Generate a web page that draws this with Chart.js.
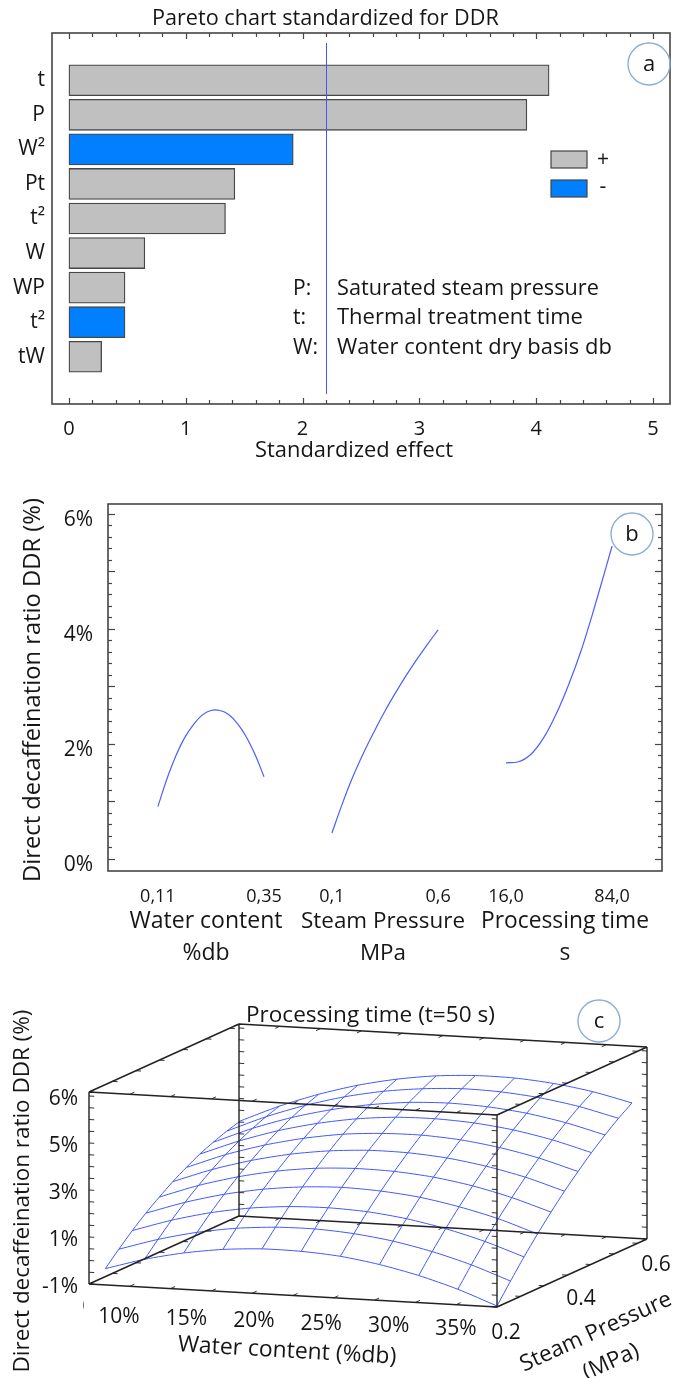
<!DOCTYPE html>
<html><head><meta charset="utf-8">
<script src="https://cdn.jsdelivr.net/npm/chart.js@4.4.1/dist/chart.umd.min.js"></script>
<style>
html,body{margin:0;padding:0;background:#fff;}
#wrap{position:relative;width:677px;height:1378px;overflow:hidden;background:#fff;}
canvas{position:absolute;left:0;}
</style></head><body>
<div id="wrap">
<canvas id="ca" width="677" height="470" style="top:0px"></canvas>
<canvas id="cb" width="677" height="520" style="top:470px"></canvas>
<canvas id="cc" width="677" height="393" style="top:985px"></canvas>
</div>
<script>
// ---------------- DATA ----------------
// (a) Pareto chart
const effectLabels = ['t','P','W²','Pt','t²','W','WP','t²','tW'];
const effectValues = [4.11, 3.92, 1.92, 1.42, 1.34, 0.65, 0.48, 0.48, 0.28];
const effectSigns  = ['+','+','-','+','+','+','+','-','+'];
const effectTicks  = [0, 1, 2, 3, 4, 5];
const criticalValue = 2.2;
const legendLabels = ['+','-'];
const factorNotes = [['P:','Saturated steam pressure'],['t:','Thermal treatment time'],['W:','Water content dry basis db']];

// (b) main effects
const waterX   = [0.11,0.13,0.15,0.17,0.19,0.21,0.23,0.25,0.27,0.29,0.31,0.33,0.35];
const waterDDR = [0.91,1.38,1.78,2.10,2.33,2.50,2.58,2.58,2.51,2.35,2.12,1.81,1.43];
const pressureX   = [0.10,0.15,0.20,0.25,0.30,0.35,0.40,0.45,0.50,0.55,0.60];
const pressureDDR = [0.45,0.97,1.44,1.85,2.22,2.57,2.89,3.19,3.47,3.73,3.98];
const timeX   = [16,24,32,40,48,56,64,72,80,84];
const timeDDR = [1.67,1.69,1.82,2.10,2.51,3.02,3.61,4.31,5.06,5.44];
const factorRanges = [[0.11,0.35],[0.10,0.60],[16,84]];
const factorTickLabels = [['0,11','0,35'],['0,1','0,6'],['16,0','84,0']];
const factorTitles = [['Water content','%db'],['Steam Pressure','MPa'],['Processing time','s']];
const ddrTicks = [0,2,4,6];
const ddrTickLabels = ['0%','2%','4%','6%'];

// (c) response surface at t = 50 s
const surfW = [0.11,0.134,0.158,0.182,0.206,0.23,0.254,0.278,0.302,0.326,0.35];
const surfP = [0.20,0.236,0.272,0.308,0.344,0.38,0.416,0.452,0.488,0.524,0.56];
const surfDDR = [
 [-0.35,0.11,0.45,0.68,0.79,0.78,0.67,0.43,0.08,-0.38,-0.96],
 [0.18,0.66,1.03,1.28,1.41,1.43,1.33,1.12,0.79,0.35,-0.21],
 [0.68,1.18,1.57,1.84,1.99,2.03,1.96,1.77,1.46,1.04,0.51],
 [1.13,1.65,2.06,2.35,2.53,2.60,2.54,2.38,2.09,1.70,1.18],
 [1.53,2.08,2.51,2.83,3.03,3.11,3.08,2.94,2.68,2.30,1.81],
 [1.90,2.47,2.92,3.26,3.48,3.59,3.58,3.46,3.22,2.87,2.40],
 [2.22,2.82,3.29,3.65,3.90,4.02,4.04,3.94,3.72,3.39,2.94],
 [2.51,3.12,3.62,4.00,4.27,4.42,4.45,4.37,4.18,3.87,3.45],
 [2.74,3.38,3.90,4.30,4.59,4.77,4.83,4.77,4.60,4.31,3.91],
 [2.94,3.60,4.14,4.57,4.88,5.07,5.16,5.12,4.97,4.71,4.33],
 [3.10,3.78,4.34,4.79,5.12,5.34,5.44,5.43,5.30,5.06,4.70]
];
const boxW = [0.10, 0.35];
const boxP = [0.20, 0.60];
const boxZ = [-1, 6.66];
const wTickVals = [0.10,0.15,0.20,0.25,0.30,0.35];
const wTickLabels = ['10%','15%','20%','25%','30%','35%'];
const pTickVals = [0.2,0.4,0.6];
const pTickLabels = ['0.2','0.4','0.6'];
const zTickVals = [-1,0.875,2.75,4.625,6.5];
const zTickLabels = ['-1%','1%','3%','5%','6%'];

// ---------------- STYLE ----------------
const FONT = "'Open Sans', Lato, sans-serif";
const INK = '#161616', FRAME = '#454545', GRAY = '#c0c0c0', BLUE = '#0080ff';
const CURVE = '#4d5eff', MESH = '#4257ff', RING = '#8caed6';
Chart.defaults.font.family = FONT;
Chart.defaults.color = INK;
Chart.defaults.animation = false;

function fitSize(ctx, s, w, base) {
  ctx.save(); ctx.font = `${base}px ${FONT}`;
  const m = ctx.measureText(s).width; ctx.restore();
  return base * w / m;
}
function txt(ctx, s, x, y, o = {}) {
  ctx.save();
  let size = o.size || 21;
  if (o.w) size = fitSize(ctx, s, o.w, size);
  ctx.font = `${size}px ${FONT}`;
  ctx.fillStyle = o.color || INK;
  ctx.textAlign = o.align || 'left';
  ctx.textBaseline = o.baseline || 'alphabetic';
  ctx.translate(x, y);
  if (o.rot) ctx.rotate(o.rot);
  ctx.fillText(s, 0, 0);
  ctx.restore();
}
function ring(ctx, x, y, r, letter) {
  ctx.save();
  ctx.strokeStyle = RING; ctx.lineWidth = 1.4;
  ctx.beginPath(); ctx.arc(x, y, r, 0, Math.PI * 2); ctx.stroke();
  ctx.restore();
  txt(ctx, letter, x, y + 1, {size: 22, align: 'center', baseline: 'middle'});
}
function seg(ctx, x1, y1, x2, y2) { ctx.beginPath(); ctx.moveTo(x1, y1); ctx.lineTo(x2, y2); ctx.stroke(); }

// ---------------- (a) PARETO ----------------
const paretoDecor = {
  id: 'paretoDecor',
  afterDatasetsDraw(chart) {
    const {ctx, chartArea: a, scales: {x}} = chart;
    const xr = Math.round(x.getPixelForValue(criticalValue)) + 0.5;
    ctx.save(); ctx.strokeStyle = '#4455ff'; ctx.lineWidth = 1;
    seg(ctx, xr, a.top + 10, xr, a.bottom - 10);
    ctx.restore();
  },
  afterDraw(chart) {
    const {ctx, chartArea: a, scales: {x}} = chart;
    ctx.save();
    ctx.strokeStyle = FRAME; ctx.lineWidth = 1.6;
    ctx.strokeRect(a.left, a.top, a.right - a.left, a.bottom - a.top);
    ctx.lineWidth = 1.2;
    for (let k = 0; k <= 25; k++) {
      const px = Math.round(x.getPixelForValue(k / 5)) + 0.5;
      const len = k % 5 === 0 ? 6 : 4;
      seg(ctx, px, a.top, px, a.top + len);
      seg(ctx, px, a.bottom, px, a.bottom - len);
    }
    ctx.lineWidth = 1.2; ctx.strokeStyle = '#444';
    ctx.fillStyle = GRAY; ctx.fillRect(551, 151, 36, 17); ctx.strokeRect(551, 151, 36, 17);
    ctx.fillStyle = BLUE; ctx.fillRect(551, 180, 36, 17); ctx.strokeRect(551, 180, 36, 17);
    ctx.restore();
    txt(ctx, legendLabels[0], 603, 160, {size: 21, align: 'center', baseline: 'middle'});
    txt(ctx, legendLabels[1], 603, 187, {size: 21, align: 'center', baseline: 'middle'});
    const base = [295, 324, 354];
    const noteW = [262, 246, 275];
    factorNotes.forEach((n, i) => {
      txt(ctx, n[0], 293, base[i], {size: 21});
      txt(ctx, n[1], 337, base[i], {size: 21, w: noteW[i]});
    });
    txt(ctx, 'Pareto chart standardized for DDR', 152, 25, {size: 21, w: 347});
    txt(ctx, 'Standardized effect', 354, 457, {size: 21, w: 198, align: 'center'});
    ring(ctx, 649, 64, 21, 'a');
  }
};

new Chart(document.getElementById('ca'), {
  type: 'bar',
  data: {
    datasets: [{
      data: effectValues.map((v, i) => ({x: v, y: i})),
      backgroundColor: effectSigns.map(s => s === '+' ? GRAY : BLUE),
      borderColor: '#474747', borderWidth: 1.3, borderSkipped: false,
      barThickness: 31
    }]
  },
  options: {
    indexAxis: 'y', responsive: false, events: [],
    layout: {padding: {left: 0, right: 7, top: 33, bottom: 0}},
    plugins: {legend: {display: false}, tooltip: {enabled: false}},
    scales: {
      x: {
        type: 'linear', min: -0.145, max: 5.145,
        afterBuildTicks: s => { s.ticks = effectTicks.map(v => ({value: v})); },
        afterFit: s => { s.height = 66; },
        grid: {display: false, drawTicks: false}, border: {display: false},
        ticks: {font: {size: 20}, color: INK, padding: 13, autoSkip: false, maxRotation: 0}
      },
      y: {
        type: 'linear', reverse: true, min: -0.77, max: 8.77,
        afterBuildTicks: s => { s.ticks = effectLabels.map((l, i) => ({value: i})); },
        afterFit: s => { s.width = 52; },
        grid: {display: false, drawTicks: false}, border: {display: false},
        ticks: {font: {size: 21}, color: INK, padding: 7, autoSkip: false,
                callback: v => effectLabels[v]}
      }
    }
  },
  plugins: [paretoDecor]
});

// ---------------- (b) MAIN EFFECTS ----------------
const GROUP_STEP = 1.64;
const groupSeries = [[waterX, waterDDR], [pressureX, pressureDDR], [timeX, timeDDR]];
const groupInterp = ['default', 'default', 'monotone'];
const bTickPos = [], bTickText = [];
factorRanges.forEach((r, g) => {
  bTickPos.push(g * GROUP_STEP, g * GROUP_STEP + 1);
  bTickText.push(factorTickLabels[g][0], factorTickLabels[g][1]);
});
const effectsDecor = {
  id: 'effectsDecor',
  afterDraw(chart) {
    const {ctx, chartArea: a, scales: {y}} = chart;
    ctx.save();
    ctx.strokeStyle = FRAME; ctx.lineWidth = 1.6;
    ctx.strokeRect(a.left, a.top, a.right - a.left, a.bottom - a.top);
    ctx.lineWidth = 1.2;
    for (let k = 0; k <= 30; k++) {
      const py = Math.round(y.getPixelForValue(k * 0.2)) + 0.5;
      const len = k % 5 === 0 ? 7 : 4;
      seg(ctx, a.left, py, a.left + len, py);
      seg(ctx, a.right, py, a.right - len, py);
    }
    ctx.restore();
    txt(ctx, 'Direct decaffeination ratio DDR (%)', 33, 220, {size: 21, w: 384, align: 'center', baseline: 'middle', rot: -Math.PI / 2});
    const cx = [206, 383, 565];
    const tw = [153, 164, 168];
    factorTitles.forEach((t, g) => {
      const size = fitSize(ctx, t[0], tw[g], 22);
      txt(ctx, t[0], cx[g], 458, {size, align: 'center'});
      txt(ctx, t[1], cx[g], 490, {size, align: 'center'});
    });
    ring(ctx, 632, 64, 21, 'b');
  }
};
new Chart(document.getElementById('cb'), {
  type: 'scatter',
  data: {
    datasets: groupSeries.map((s, g) => ({
      data: s[0].map((v, k) => ({x: g * GROUP_STEP + (v - factorRanges[g][0]) / (factorRanges[g][1] - factorRanges[g][0]), y: s[1][k]})),
      showLine: true, pointRadius: 0, borderColor: CURVE, borderWidth: 1.2,
      cubicInterpolationMode: groupInterp[g], tension: 0.4
    }))
  },
  options: {
    responsive: false, events: [],
    layout: {padding: {left: 0, right: 15, top: 34, bottom: 0}},
    plugins: {legend: {display: false}, tooltip: {enabled: false}},
    scales: {
      x: {
        type: 'linear', min: -0.47, max: 4.75,
        afterBuildTicks: s => { s.ticks = bTickPos.map(v => ({value: v})); },
        afterFit: s => { s.height = 119; },
        grid: {display: false, drawTicks: false}, border: {display: false},
        ticks: {font: {size: 18}, color: INK, padding: 15, autoSkip: false, maxRotation: 0,
                callback: (v, i) => bTickText[i]}
      },
      y: {
        type: 'linear', min: -0.21, max: 6.17,
        afterBuildTicks: s => { s.ticks = ddrTicks.map(v => ({value: v})); },
        afterFit: s => { s.width = 108; },
        grid: {display: false, drawTicks: false}, border: {display: false},
        ticks: {font: {size: 21}, color: INK, padding: 15, autoSkip: false, labelOffset: 6,
                callback: (v, i) => ddrTickLabels[i]}
      }
    }
  },
  plugins: [effectsDecor]
});

// ---------------- (c) RESPONSE SURFACE ----------------
// oblique projection of (W, P, DDR) into plane units (front box width = 1)
const PROJ = {depthU: 150 / 408, depthV: 68 / 408, slopeV: 23 / 408, heightV: 192 / 408};
function project(w, p, z) {
  const fw = (w - boxW[0]) / (boxW[1] - boxW[0]);
  const fp = (p - boxP[0]) / (boxP[1] - boxP[0]);
  const fz = (z - boxZ[0]) / (boxZ[1] - boxZ[0]);
  return {x: fw + fp * PROJ.depthU, y: -fw * PROJ.slopeV + fp * PROJ.depthV + fz * PROJ.heightV};
}
const GAP = {x: null, y: null};
const boxPts = [];
const edges = [];
for (const p of boxP) for (const z of boxZ) edges.push([[boxW[0], p, z], [boxW[1], p, z]]);
for (const w of boxW) for (const z of boxZ) edges.push([[w, boxP[0], z], [w, boxP[1], z]]);
for (const w of boxW) for (const p of boxP) edges.push([[w, p, boxZ[0]], [w, p, boxZ[1]]]);
edges.forEach(e => { boxPts.push(project(...e[0]), project(...e[1]), GAP); });

const tickPts = [];
const wMinor = [], pMinor = [], zMinor = [];
for (let k = 0; k <= 10; k++) wMinor.push(boxW[0] + k * 0.025);
for (let k = 0; k <= 6; k++) pMinor.push(boxP[0] + k * 0.0625);
for (let k = 0; k <= 16; k++) zMinor.push(boxZ[0] + k * 0.46875);
const dW = 0.0032, dP = 0.012;
for (const w of wMinor) for (const z of boxZ) {
  tickPts.push(project(w, boxP[0], z), project(w, boxP[0] + dP, z), GAP);
  tickPts.push(project(w, boxP[1], z), project(w, boxP[1] - dP, z), GAP);
}
for (const p of pMinor) for (const z of boxZ) {
  tickPts.push(project(boxW[0], p, z), project(boxW[0] + dW, p, z), GAP);
  tickPts.push(project(boxW[1], p, z), project(boxW[1] - dW, p, z), GAP);
}
for (const z of zMinor) for (const p of boxP) {
  tickPts.push(project(boxW[0], p, z), project(boxW[0] + dW, p, z), GAP);
  tickPts.push(project(boxW[1], p, z), project(boxW[1] - dW, p, z), GAP);
}

const meshSets = [];
surfP.forEach((p, j) => meshSets.push(surfW.map((w, i) => project(w, p, surfDDR[j][i]))));
surfW.forEach((w, i) => meshSets.push(surfP.map((p, j) => project(w, p, surfDDR[j][i]))));

const surfaceDecor = {
  id: 'surfaceDecor',
  afterDraw(chart) {
    const {ctx, scales: {x, y}} = chart;
    const px = pt => ({x: x.getPixelForValue(pt.x), y: y.getPixelForValue(pt.y)});
    txt(ctx, 'Processing time (t=50 s)', 246, 37, {size: 21, w: 249});
    ring(ctx, 599, 36, 21, 'c');
    txt(ctx, 'Direct decaffeination ratio DDR (%)', 23, 206, {size: 21, w: 363, align: 'center', baseline: 'middle', rot: -Math.PI / 2});
    zTickVals.forEach((z, k) => {
      const q = px(project(boxW[0], boxP[0], z));
      txt(ctx, zTickLabels[k], q.x - 11, q.y + 3, {size: 21, align: 'right', baseline: 'middle'});
    });
    wTickVals.forEach((w, k) => {
      const f = (w - boxW[0]) / (boxW[1] - boxW[0]);
      const q = px(project(boxW[0] + 0.0184 + (w - boxW[0]) * 0.826, boxP[0], boxZ[0]));
      txt(ctx, wTickLabels[k], q.x, q.y + 31 - 7 * f, {size: 21, align: 'center', baseline: 'middle'});
    });
    pTickVals.forEach((p, k) => {
      const q = px(project(boxW[1], p, boxZ[0]));
      txt(ctx, pTickLabels[k], q.x + 9, q.y + 26, {size: 21, align: 'center', baseline: 'middle'});
    });
    ctx.save(); ctx.beginPath(); ctx.rect(83, 300, 20, 40); ctx.clip();
    txt(ctx, '0', 79, 321, {size: 20, align: 'center', baseline: 'middle'});
    ctx.restore();
    txt(ctx, 'Water content (%db)', 287, 366, {size: 22, w: 219, align: 'center', baseline: 'middle', rot: Math.atan2(23, 408)});
    const ang = -Math.atan2(68, 150);
    const ps = fitSize(ctx, 'Steam Pressure', 164, 22);
    txt(ctx, 'Steam Pressure', 596, 347, {size: ps, align: 'center', baseline: 'middle', rot: ang});
    txt(ctx, '(MPa)', 611, 377, {size: ps, align: 'center', baseline: 'middle', rot: ang});
  }
};

new Chart(document.getElementById('cc'), {
  type: 'scatter',
  data: {
    datasets: [
      {data: boxPts, showLine: true, pointRadius: 0, borderColor: '#222', borderWidth: 1.4, spanGaps: false, tension: 0},
      {data: tickPts, showLine: true, pointRadius: 0, borderColor: '#333', borderWidth: 1, spanGaps: false, tension: 0},
      ...meshSets.map(d => ({data: d, showLine: true, pointRadius: 0, borderColor: MESH, borderWidth: 1, tension: 0.25}))
    ]
  },
  options: {
    responsive: false, events: [],
    layout: {padding: 0},
    plugins: {legend: {display: false}, tooltip: {enabled: false}},
    scales: {
      x: {type: 'linear', display: false, min: -89 / 408, max: 588 / 408},
      y: {type: 'linear', display: false, min: -94 / 408, max: 299 / 408}
    }
  },
  plugins: [surfaceDecor]
});
</script>
</body></html>
